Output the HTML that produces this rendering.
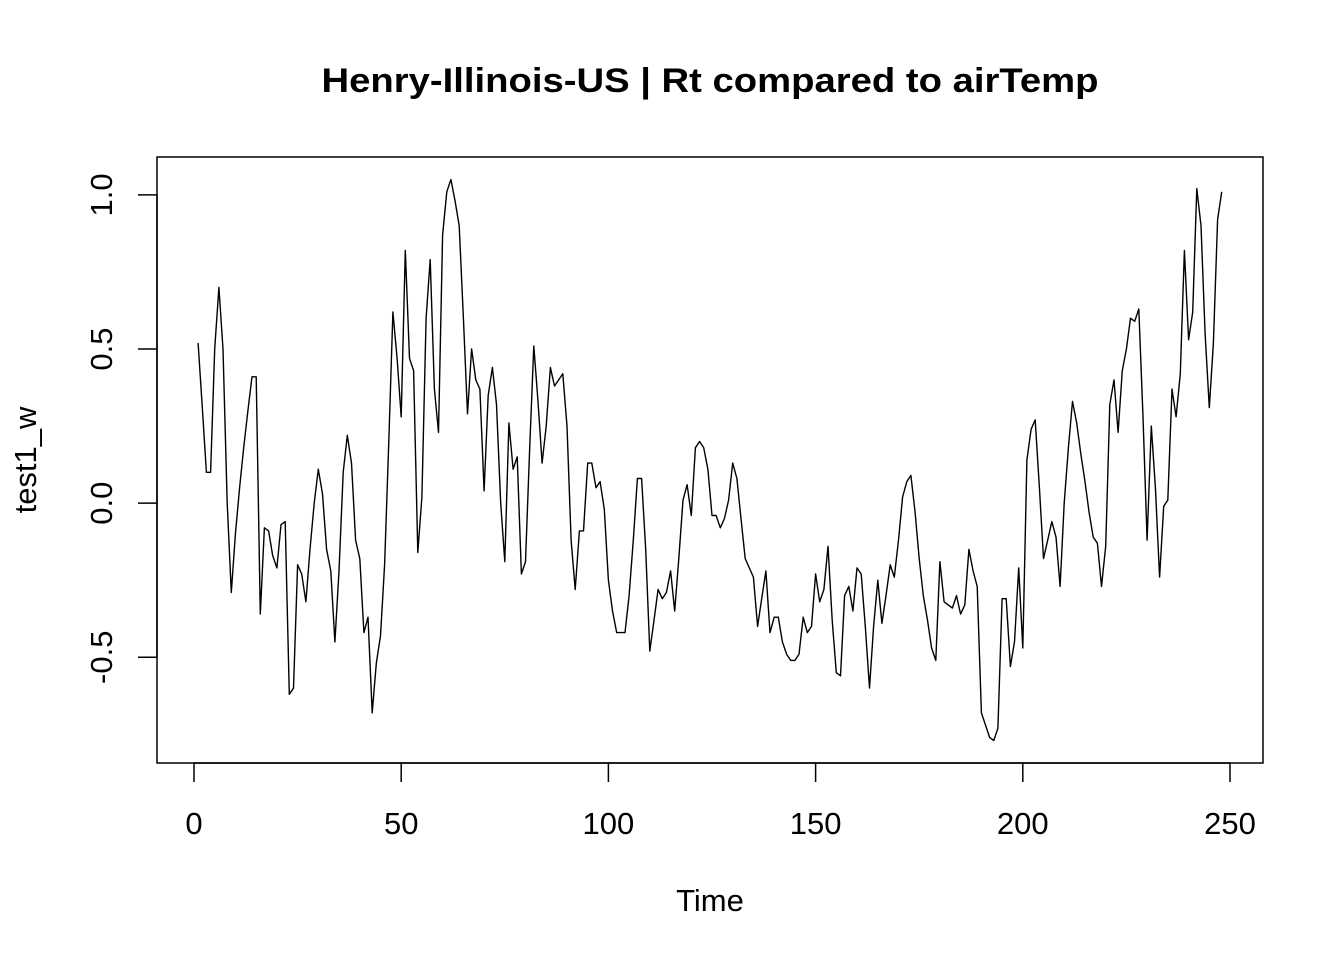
<!DOCTYPE html>
<html><head><meta charset="utf-8"><style>
html,body{margin:0;padding:0;background:#fff;}
svg text{font-family:"Liberation Sans",Arial,sans-serif;fill:#000;}
</style></head><body>
<svg id="chart" width="1344" height="960" xmlns="http://www.w3.org/2000/svg">
<rect width="1344" height="960" fill="#fff"/>
<text x="710" y="92" text-anchor="middle" font-size="34" font-weight="bold" textLength="777" lengthAdjust="spacingAndGlyphs">Henry-Illinois-US | Rt compared to airTemp</text>
<rect x="157" y="157" width="1106" height="606" fill="none" stroke="#000" stroke-width="1.5"/>
<g id="xaxis"></g>
<g id="yaxis"></g>
<text x="710" y="911" text-anchor="middle" font-size="31">Time</text>
<text transform="translate(36,460) rotate(-90)" text-anchor="middle" font-size="31">test1_w</text>
<g id="series"></g>
</svg>
<script>
const xTicks = [0, 50, 100, 150, 200, 250];
const yTicks = [-0.5, 0.0, 0.5, 1.0];
const yTickLabels = ["-0.5", "0.0", "0.5", "1.0"];
const values = [0.52,0.31,0.10,0.10,0.50,0.70,0.50,0.0,-0.29,-0.10,0.05,0.18,0.30,0.41,0.41,-0.36,-0.08,-0.09,-0.17,-0.21,-0.07,-0.06,-0.62,-0.60,-0.20,-0.23,-0.32,-0.15,0.0,0.11,0.03,-0.15,-0.22,-0.45,-0.22,0.10,0.22,0.13,-0.12,-0.18,-0.42,-0.37,-0.68,-0.52,-0.43,-0.20,0.20,0.62,0.47,0.28,0.82,0.47,0.43,-0.16,0.02,0.60,0.79,0.37,0.23,0.87,1.01,1.05,0.98,0.90,0.60,0.29,0.50,0.40,0.37,0.04,0.35,0.44,0.32,0.0,-0.19,0.26,0.11,0.15,-0.23,-0.19,0.18,0.51,0.33,0.13,0.25,0.44,0.38,0.40,0.42,0.25,-0.12,-0.28,-0.09,-0.09,0.13,0.13,0.05,0.07,-0.02,-0.25,-0.35,-0.42,-0.42,-0.42,-0.30,-0.12,0.08,0.08,-0.15,-0.48,-0.38,-0.28,-0.31,-0.29,-0.22,-0.35,-0.18,0.01,0.06,-0.04,0.18,0.20,0.18,0.11,-0.04,-0.04,-0.08,-0.05,0.01,0.13,0.08,-0.05,-0.18,-0.21,-0.24,-0.40,-0.31,-0.22,-0.42,-0.37,-0.37,-0.45,-0.49,-0.51,-0.51,-0.49,-0.37,-0.42,-0.40,-0.23,-0.32,-0.28,-0.14,-0.38,-0.55,-0.56,-0.30,-0.27,-0.35,-0.21,-0.23,-0.40,-0.60,-0.40,-0.25,-0.39,-0.30,-0.20,-0.24,-0.12,0.02,0.07,0.09,-0.03,-0.18,-0.30,-0.38,-0.47,-0.51,-0.19,-0.32,-0.33,-0.34,-0.30,-0.36,-0.33,-0.15,-0.22,-0.27,-0.68,-0.72,-0.76,-0.77,-0.73,-0.31,-0.31,-0.53,-0.45,-0.21,-0.47,0.14,0.24,0.27,0.05,-0.18,-0.12,-0.06,-0.11,-0.27,0.0,0.18,0.33,0.26,0.16,0.07,-0.03,-0.11,-0.13,-0.27,-0.14,0.32,0.40,0.23,0.43,0.50,0.60,0.59,0.63,0.28,-0.12,0.25,0.05,-0.24,-0.01,0.01,0.37,0.28,0.42,0.82,0.53,0.62,1.02,0.90,0.55,0.31,0.52,0.92,1.01];

const NS = "http://www.w3.org/2000/svg";
const px0 = 194, px250 = 1230;
function xs(t){ return px0 + (px250 - px0) * t / 250; }
const yMin = -0.843, yMax = 1.123, plotTop = 157, plotBot = 763;
function ys(v){ return plotBot - (v - yMin) / (yMax - yMin) * (plotBot - plotTop); }

const xg = document.getElementById('xaxis');
const xl = document.createElementNS(NS,'line');


xl.setAttribute('x1',xs(xTicks[0]));xl.setAttribute('x2',xs(xTicks[xTicks.length-1]));
xl.setAttribute('y1',plotBot);xl.setAttribute('y2',plotBot);xl.setAttribute('stroke','#000');xl.setAttribute('stroke-width','1.5');
xg.appendChild(xl);
xTicks.forEach(t=>{
  const l=document.createElementNS(NS,'line');
  
  
  l.setAttribute('x1',xs(t));l.setAttribute('x2',xs(t));l.setAttribute('y1',plotBot);l.setAttribute('y2',plotBot+19);
  l.setAttribute('stroke','#000');l.setAttribute('stroke-width','1.5');xg.appendChild(l);
  const tx=document.createElementNS(NS,'text');
  
  
  tx.setAttribute('x',xs(t));tx.setAttribute('y',834);tx.setAttribute('text-anchor','middle');tx.setAttribute('font-size','31');
  tx.textContent=String(t);xg.appendChild(tx);
});
const yg = document.getElementById('yaxis');
const yl = document.createElementNS(NS,'line');


yl.setAttribute('x1',157);yl.setAttribute('x2',157);
yl.setAttribute('y1',ys(yTicks[0]));yl.setAttribute('y2',ys(yTicks[yTicks.length-1]));yl.setAttribute('stroke','#000');yl.setAttribute('stroke-width','1.5');
yg.appendChild(yl);
yTicks.forEach((v,i)=>{
  const l=document.createElementNS(NS,'line');
  
  
  l.setAttribute('x1',138);l.setAttribute('x2',157);l.setAttribute('y1',ys(v));l.setAttribute('y2',ys(v));
  l.setAttribute('stroke','#000');l.setAttribute('stroke-width','1.5');yg.appendChild(l);
  const tx=document.createElementNS(NS,'text');
  
  
  tx.setAttribute('transform','translate(112,'+ys(v)+') rotate(-90)');tx.setAttribute('text-anchor','middle');tx.setAttribute('font-size','31');
  tx.textContent=yTickLabels[i];yg.appendChild(tx);
});
const pl=document.createElementNS(NS,'polyline');


pl.setAttribute('points',values.map((v,i)=>xs(i+1).toFixed(1)+','+ys(v).toFixed(1)).join(' '));
pl.setAttribute('fill','none');pl.setAttribute('stroke','#000');pl.setAttribute('stroke-width','1.4');pl.setAttribute('stroke-linejoin','round');
document.getElementById('series').appendChild(pl);
</script>
</body></html>
